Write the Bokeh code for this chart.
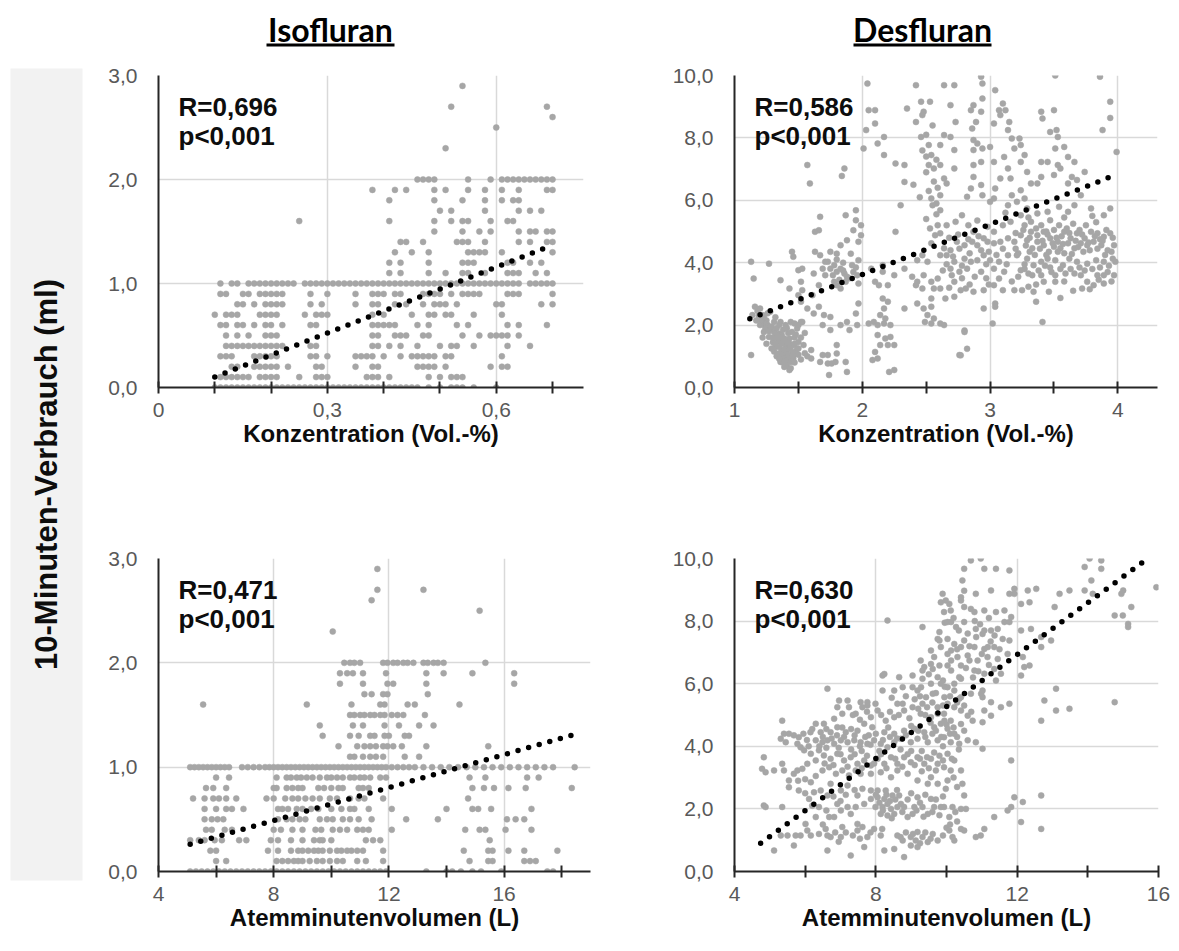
from bokeh.plotting import figure
from bokeh.layouts import row, column
from bokeh.models import Range1d, FixedTicker, Label, BoxAnnotation
from bokeh.embed import file_html
from bokeh.resources import INLINE

# ---------------------------------------------------------------------------
# Data
# ---------------------------------------------------------------------------

# Isofluran: consumption (ml / 10 min) versus concentration (Vol.-%)
# consumption is recorded in 0.1 ml steps, so points are stored per level
iso_conc_levels = [0.0, 0.1, 0.2, 0.3, 0.4, 0.5, 0.6, 0.7, 0.8, 0.9, 1.0,
                   1.1, 1.2, 1.3, 1.4, 1.5, 1.6, 1.7, 1.8, 1.9, 2.0,
                   2.3, 2.5, 2.6, 2.7, 2.9]
iso_conc_x = [
    [0.10, 0.11, 0.12, 0.13, 0.14, 0.15, 0.16, 0.17, 0.18, 0.19, 0.20, 0.21, 0.22,
     0.23, 0.24, 0.25, 0.26, 0.27, 0.28, 0.29, 0.30, 0.31, 0.32, 0.33, 0.34, 0.35,
     0.36, 0.37, 0.38, 0.39, 0.40, 0.41, 0.42, 0.43, 0.44, 0.45, 0.46, 0.48, 0.50,
     0.52, 0.53, 0.54, 0.56, 0.60],
    [0.11, 0.12, 0.13, 0.14, 0.15, 0.16, 0.18, 0.19, 0.20, 0.21, 0.25, 0.28, 0.29,
     0.30, 0.37, 0.38, 0.39, 0.41, 0.48, 0.50, 0.52, 0.53, 0.54],
    [0.13, 0.14, 0.17, 0.18, 0.19, 0.20, 0.21, 0.23, 0.28, 0.29, 0.35, 0.38, 0.39,
     0.46, 0.47, 0.48, 0.49, 0.51, 0.59, 0.61, 0.62],
    [0.11, 0.12, 0.13, 0.17, 0.18, 0.19, 0.20, 0.21, 0.27, 0.28, 0.30, 0.35, 0.36,
     0.37, 0.38, 0.40, 0.43, 0.45, 0.46, 0.47, 0.48, 0.49, 0.51, 0.52, 0.61],
    [0.12, 0.13, 0.14, 0.15, 0.16, 0.17, 0.18, 0.19, 0.20, 0.21, 0.22, 0.27, 0.28,
     0.38, 0.39, 0.41, 0.43, 0.46, 0.50, 0.52, 0.53, 0.56, 0.62, 0.66],
    [0.12, 0.14, 0.16, 0.19, 0.20, 0.21, 0.38, 0.39, 0.42, 0.43, 0.44, 0.47, 0.48,
     0.54, 0.57, 0.59, 0.60, 0.61, 0.62, 0.64],
    [0.11, 0.12, 0.14, 0.15, 0.17, 0.19, 0.20, 0.22, 0.27, 0.28, 0.38, 0.39, 0.40,
     0.41, 0.42, 0.46, 0.48, 0.53, 0.55, 0.62, 0.64, 0.69],
    [0.10, 0.12, 0.13, 0.14, 0.18, 0.19, 0.20, 0.21, 0.26, 0.28, 0.29, 0.30, 0.38,
     0.40, 0.45, 0.48, 0.49, 0.51, 0.52, 0.56, 0.61],
    [0.14, 0.15, 0.17, 0.19, 0.20, 0.21, 0.22, 0.27, 0.29, 0.35, 0.38, 0.39, 0.42,
     0.44, 0.47, 0.49, 0.50, 0.51, 0.53, 0.60, 0.61, 0.68, 0.70],
    [0.11, 0.12, 0.15, 0.16, 0.18, 0.19, 0.20, 0.21, 0.22, 0.27, 0.30, 0.35, 0.38,
     0.39, 0.40, 0.42, 0.43, 0.47, 0.48, 0.49, 0.50, 0.52, 0.54, 0.55, 0.56, 0.57,
     0.62, 0.63, 0.64, 0.70],
    [0.11, 0.13, 0.14, 0.16, 0.17, 0.18, 0.19, 0.20, 0.21, 0.22, 0.23, 0.24, 0.26,
     0.27, 0.28, 0.29, 0.30, 0.31, 0.32, 0.33, 0.34, 0.35, 0.36, 0.37, 0.38, 0.39,
     0.40, 0.41, 0.42, 0.43, 0.44, 0.45, 0.46, 0.47, 0.48, 0.49, 0.50, 0.51, 0.52,
     0.53, 0.54, 0.55, 0.56, 0.57, 0.58, 0.59, 0.60, 0.61, 0.62, 0.63, 0.64, 0.66,
     0.67, 0.68, 0.69, 0.70],
    [0.41, 0.43, 0.48, 0.51, 0.54, 0.55, 0.58, 0.62, 0.63, 0.64, 0.67, 0.69],
    [0.41, 0.43, 0.48, 0.54, 0.55, 0.56, 0.62, 0.63, 0.66, 0.68],
    [0.42, 0.45, 0.48, 0.55, 0.56, 0.57, 0.58, 0.61, 0.70],
    [0.43, 0.44, 0.47, 0.53, 0.54, 0.55, 0.58, 0.64, 0.66, 0.69, 0.70],
    [0.49, 0.54, 0.57, 0.59, 0.64, 0.66, 0.67, 0.69, 0.70],
    [0.25, 0.41, 0.49, 0.52, 0.54, 0.55, 0.59, 0.62, 0.63],
    [0.50, 0.52, 0.58, 0.64, 0.66, 0.68],
    [0.41, 0.49, 0.54, 0.58, 0.61, 0.63, 0.64],
    [0.38, 0.42, 0.44, 0.49, 0.51, 0.55, 0.58, 0.61, 0.64, 0.69, 0.70],
    [0.46, 0.47, 0.48, 0.49, 0.55, 0.59, 0.61, 0.62, 0.63, 0.64, 0.65, 0.66, 0.67,
     0.68, 0.69, 0.70],
    [0.51],
    [0.60],
    [0.70],
    [0.52, 0.69],
    [0.54],
]
iso_conc_trend_x = [0.10, 0.70]
iso_conc_trend_y = [0.10, 1.37]

# Isofluran: consumption versus minute volume (L)
iso_amv_levels = iso_conc_levels
iso_amv_x = [
    [5.1, 5.3, 5.5, 5.7, 5.9, 6.1, 6.3, 6.5, 6.7, 6.9, 7.1, 7.3, 7.5, 7.7, 7.9, 8.1,
     8.3, 8.5, 8.7, 8.9, 9.1, 9.3, 9.5, 9.7, 9.9, 10.1, 10.3, 10.5, 10.7, 10.9, 11.1,
     11.3, 11.5, 11.7, 11.9, 13.3, 14.0, 14.2, 14.5, 14.9, 15.2, 15.9, 17.5, 17.7],
    [6.0, 6.35, 8.1, 8.3, 8.5, 8.7, 8.85, 9.0, 9.25, 9.5, 9.7, 9.95, 10.2, 10.4,
     10.9, 11.2, 11.8, 14.8, 15.45, 15.6, 16.7, 16.9, 17.1],
    [5.8, 6.0, 7.8, 8.15, 8.6, 8.85, 9.0, 9.2, 9.4, 9.55, 9.7, 9.95, 10.2, 10.35,
     10.55, 10.7, 10.9, 11.1, 11.8, 14.6, 15.45, 15.6, 16.15, 16.7, 17.85],
    [5.1, 5.4, 5.6, 5.95, 6.2, 6.8, 7.05, 7.9, 8.15, 8.6, 9.0, 9.4, 9.6, 9.7, 10.0,
     11.2, 11.45, 11.7, 15.5],
    [5.65, 5.85, 6.3, 6.55, 8.0, 8.25, 8.65, 9.0, 9.45, 9.65, 10.05, 10.3, 10.55,
     10.9, 11.1, 11.3, 12.1, 14.65, 15.15, 15.35, 16.05, 16.95],
    [5.6, 5.85, 6.05, 6.25, 8.15, 8.45, 8.65, 8.9, 9.1, 9.6, 9.85, 10.05, 10.4,
     10.65, 10.95, 11.4, 12.6, 13.7, 16.1, 16.4, 16.7],
    [5.6, 6.0, 6.35, 6.55, 6.95, 8.15, 8.3, 8.5, 8.8, 9.0, 9.3, 9.55, 10.0, 10.35,
     10.65, 10.8, 11.3, 12.1, 14.0, 14.9, 15.1, 15.55, 16.95],
    [5.2, 5.6, 5.9, 6.1, 6.35, 6.7, 7.75, 8.0, 8.4, 8.65, 8.85, 9.1, 9.35, 9.6, 9.95,
     10.2, 10.65, 10.95, 11.15, 11.8, 14.75],
    [5.65, 5.9, 6.35, 8.0, 8.1, 8.45, 8.65, 8.85, 9.0, 9.55, 9.75, 10.0, 10.25, 10.4,
     10.95, 11.1, 11.3, 14.9, 15.3, 15.65, 16.15, 16.75, 18.35],
    [6.0, 6.45, 8.1, 8.45, 8.6, 8.8, 8.95, 9.15, 9.35, 9.6, 9.85, 10.0, 10.2, 10.4,
     10.65, 10.8, 11.0, 11.15, 11.35, 11.7, 11.9, 14.8, 15.35, 16.8, 17.2],
    [5.1, 5.25, 5.4, 5.55, 5.7, 5.85, 6.0, 6.15, 6.3, 6.45, 6.9, 7.1, 7.3, 7.5, 7.7,
     7.85, 8.0, 8.15, 8.3, 8.45, 8.6, 8.75, 8.9, 9.05, 9.2, 9.35, 9.5, 9.65, 9.8,
     9.95, 10.1, 10.25, 10.4, 10.55, 10.7, 10.85, 11.0, 11.15, 11.3, 11.45, 11.6,
     11.75, 11.9, 12.1, 12.3, 12.5, 12.7, 12.9, 13.2, 13.5, 13.8, 14.1, 14.4, 14.7,
     15.0, 15.3, 15.6, 15.9, 16.2, 16.5, 16.8, 17.1, 17.4, 17.7, 18.45],
    [10.65, 10.8, 11.1, 11.35, 11.55, 11.8, 12.55, 13.05],
    [10.25, 10.9, 11.15, 11.35, 11.55, 11.8, 11.95, 12.15, 12.45, 13.3, 15.45],
    [9.7, 10.65, 10.95, 11.35, 11.5, 11.85, 12.0, 12.55, 12.7],
    [9.6, 10.75, 11.1, 11.85, 12.35, 13.05, 13.55],
    [10.65, 10.8, 11.0, 11.15, 11.35, 11.5, 11.7, 11.85, 12.1, 12.3, 12.5, 13.25],
    [5.55, 9.15, 10.7, 11.7, 11.85, 12.65, 12.9, 14.45],
    [11.15, 11.4, 11.8, 11.95, 13.35],
    [10.3, 11.1, 11.95, 12.15, 13.3, 16.35],
    [10.3, 10.55, 10.75, 11.1, 11.9, 13.3, 13.9, 14.9, 16.35],
    [10.45, 10.65, 10.8, 11.0, 11.8, 11.95, 12.15, 12.3, 12.5, 12.65, 12.85, 13.2,
     13.35, 13.55, 13.7, 13.9, 15.35],
    [10.05],
    [15.15],
    [11.4],
    [11.6, 13.2],
    [11.6],
]
iso_amv_trend_x = [5.1, 18.4]
iso_amv_trend_y = [0.26, 1.31]

# Desfluran: consumption versus concentration, (Vol.-%, ml) pairs
des_conc_points = [
    (2.04, 9.74), (2.42, 9.69), (2.64, 9.69), (2.05, 8.89), (2.10, 8.89), (2.10, 8.46),
    (2.03, 8.25), (2.01, 7.66), (2.12, 7.82), (2.17, 8.03), (2.17, 7.45), (2.46, 9.16),
    (2.48, 8.84), (2.53, 9.16), (2.47, 8.73), (2.42, 8.51), (2.35, 8.94), (2.46, 8.03),
    (2.52, 7.77), (2.54, 7.45), (2.52, 7.13), (2.56, 7.02), (2.61, 7.13), (2.64, 6.70),
    (2.61, 7.77), (2.64, 8.09), (2.26, 7.18), (2.33, 7.13), (2.33, 6.59), (1.57, 7.13),
    (1.59, 6.54), (1.86, 7.02), (1.84, 6.78),
    (2.47, 7.60), (2.50, 7.40), (2.58, 7.30), (2.50, 6.90), (2.56, 6.60), (2.59, 6.40),
    (2.52, 6.30), (2.58, 5.90), (2.45, 6.10), (2.58, 5.55), (2.50, 5.40), (2.40, 6.50),
    (2.55, 8.40), (2.50, 8.10),
    (2.54, 6.06), (2.55, 5.84), (2.61, 6.16), (2.30, 5.84), (2.26, 4.99), (1.95, 5.68),
    (1.87, 5.52), (1.95, 5.36), (1.99, 5.20), (1.93, 5.04), (1.99, 4.88), (1.97, 4.67),
    (1.67, 5.47), (1.66, 5.04), (1.63, 4.99), (1.88, 4.72), (1.83, 4.56), (1.80, 4.29),
    (1.75, 4.35), (1.73, 4.03), (1.75, 3.81), (1.78, 3.92), (1.80, 3.71), (1.83, 3.81),
    (1.86, 3.65), (1.88, 3.55), (1.87, 3.39), (1.83, 3.17), (1.78, 3.39), (1.80, 3.28),
    (1.91, 4.29), (1.92, 3.92), (1.97, 4.08), (1.96, 3.60), (1.97, 3.33),
    (1.77, 3.60), (1.85, 3.75), (1.82, 3.45), (1.90, 3.50), (1.93, 3.70), (1.85, 4.00),
    (1.80, 4.10), (1.95, 3.85),
    (1.45, 4.35), (1.46, 4.19), (1.50, 3.76), (1.53, 3.81), (1.63, 4.35), (1.67, 4.24),
    (1.71, 4.03), (1.69, 3.81), (1.71, 3.60), (1.62, 3.65), (1.66, 3.28), (1.61, 2.96),
    (1.13, 4.03), (1.27, 3.97), (1.15, 3.49), (1.36, 3.44), (1.43, 3.17), (1.53, 3.12),
    (1.52, 3.39), (1.52, 2.75), (1.53, 2.10), (1.66, 2.59), (1.70, 2.32), (1.75, 2.26),
    (1.69, 2.00), (1.75, 1.84), (1.83, 2.00), (1.88, 2.10), (1.95, 2.37), (1.96, 2.00),
    (1.90, 1.84), (1.97, 2.69),
    (2.07, 3.81), (2.10, 3.39), (2.16, 3.71), (2.13, 3.28), (2.16, 2.85), (2.17, 2.53),
    (2.20, 2.75), (2.18, 2.21), (2.09, 2.10), (2.05, 2.05), (2.12, 2.00), (2.17, 2.05),
    (2.22, 2.00), (2.14, 2.32), (2.12, 1.68), (2.18, 1.57), (2.22, 1.62), (2.25, 1.36),
    (2.20, 1.36), (2.14, 1.36), (2.10, 1.14), (2.12, 0.93), (2.08, 0.88), (2.21, 0.50),
    (2.25, 0.56), (2.33, 2.53),
    (1.14, 2.32), (1.13, 1.04), (1.16, 2.59), (1.20, 2.53), (1.23, 2.26), (1.26, 2.00),
    (1.23, 1.78), (1.28, 1.89), (1.31, 1.78), (1.35, 1.73), (1.39, 1.57), (1.36, 1.46),
    (1.40, 1.36), (1.43, 1.41), (1.37, 1.20), (1.41, 1.09), (1.45, 1.14), (1.39, 0.98),
    (1.43, 0.93), (1.36, 0.82), (1.40, 0.77), (1.44, 0.82), (1.43, 0.56), (1.39, 0.66),
    (1.32, 1.30), (1.33, 1.68), (1.45, 1.78), (1.49, 1.89), (1.52, 2.10), (1.44, 2.10),
    (1.50, 1.46), (1.49, 1.25), (1.54, 1.36), (1.60, 1.20), (1.60, 0.93), (1.46, 0.93),
    (1.31, 2.10), (1.36, 2.10), (1.40, 2.00), (1.28, 2.43), (1.22, 2.32), (1.46, 1.36),
    (1.37, 1.68), (1.43, 1.57), (1.25, 2.15), (1.29, 1.95), (1.33, 1.90), (1.38, 1.85),
    (1.42, 1.75), (1.34, 1.55), (1.38, 1.40), (1.42, 1.25), (1.35, 1.10), (1.38, 1.05),
    (1.42, 1.00), (1.46, 1.05), (1.48, 1.15), (1.40, 0.88), (1.37, 0.95), (1.33, 1.00),
    (1.30, 1.45), (1.47, 1.60), (1.27, 1.62), (1.24, 2.05), (1.19, 2.30), (1.26, 2.38),
    (1.47, 2.05), (1.50, 2.00),
    (1.21, 2.15), (1.24, 1.92), (1.27, 1.80), (1.30, 1.60), (1.32, 1.40), (1.35, 1.30),
    (1.36, 1.60), (1.39, 1.20), (1.41, 1.45), (1.44, 1.30), (1.47, 1.40), (1.50, 1.25),
    (1.45, 1.00), (1.41, 0.70), (1.38, 0.80), (1.35, 0.92), (1.31, 1.15), (1.29, 1.25),
    (1.44, 0.62), (1.47, 0.80), (1.50, 1.05), (1.52, 0.90), (1.55, 1.10), (1.57, 1.00),
    (1.20, 2.00), (1.17, 2.15), (1.22, 1.60), (1.25, 1.40), (1.48, 1.70), (1.52, 1.60),
    (1.55, 1.75), (1.41, 1.90), (1.35, 2.00), (1.32, 2.25), (1.18, 2.45),
    (1.69, 1.04), (1.73, 1.04), (1.80, 1.09), (1.73, 0.77), (1.76, 0.77), (1.79, 0.82),
    (1.67, 0.82), (1.87, 0.82), (1.74, 0.40), (1.88, 0.50), (1.80, 1.36), (1.57, 2.53),
    (1.62, 2.37), (1.50, 2.96),
    (2.53, 5.10), (2.59, 5.20), (2.57, 4.88), (2.61, 4.94), (2.54, 4.62), (2.61, 4.24),
    (2.43, 4.08), (2.47, 4.24), (2.51, 4.03), (2.48, 3.60), (2.54, 3.39), (2.59, 3.49),
    (2.43, 3.39), (2.47, 3.17), (2.56, 3.17), (2.61, 3.17), (2.54, 2.85), (2.48, 2.53),
    (2.51, 2.32), (2.56, 2.21), (2.61, 2.05), (2.49, 2.10), (2.54, 2.05), (2.43, 2.69),
    (2.54, 2.59), (2.16, 3.92), (2.33, 3.81), (2.39, 3.55), (2.42, 3.28), (2.25, 3.60),
    (2.20, 3.28), (2.77, 1.03), (2.82, 1.24), (2.80, 1.83),
    (2.72, 9.69), (2.93, 9.96), (2.94, 9.74), (3.04, 9.53), (3.51, 10.0), (3.86, 9.96),
    (2.94, 9.26), (2.87, 9.05), (2.69, 9.05), (2.85, 8.89), (2.93, 8.84), (2.73, 8.51),
    (2.86, 8.30), (2.89, 8.51), (3.03, 8.46), (3.10, 9.10), (3.07, 8.89), (3.12, 8.89),
    (3.15, 8.51), (3.14, 8.25), (3.08, 8.73), (3.40, 8.84), (3.41, 8.62), (3.50, 8.89),
    (3.47, 8.19), (3.52, 8.25), (3.53, 8.03), (3.94, 9.16), (3.94, 8.64), (3.88, 8.25),
    (3.99, 7.55),
    (2.69, 8.03), (2.87, 7.93), (2.90, 7.82), (2.87, 7.61), (2.94, 7.66), (2.72, 7.61),
    (3.00, 7.71), (3.17, 7.98), (3.23, 7.98), (3.24, 7.77), (3.19, 7.66), (3.27, 7.45),
    (3.03, 7.23), (3.11, 7.39), (3.14, 7.02), (3.24, 7.23), (3.08, 6.70), (3.16, 6.70),
    (3.29, 6.91), (3.40, 7.23), (3.45, 7.23), (3.53, 7.13), (3.58, 7.71), (3.61, 7.39),
    (3.51, 7.66), (3.55, 7.02), (3.66, 7.23), (3.74, 6.91), (3.64, 6.75), (3.61, 6.54),
    (3.68, 6.65), (3.40, 6.75), (3.50, 6.81), (3.27, 6.06), (3.32, 6.54), (3.37, 6.54),
    (2.87, 7.13), (2.93, 7.23), (2.87, 6.75), (2.72, 7.02), (2.66, 6.54), (2.93, 6.49),
    (2.85, 6.38), (3.04, 6.38), (3.24, 6.32), (3.17, 6.16), (3.03, 6.06), (2.94, 6.16),
    (2.82, 6.11),
    (3.00, 5.95), (3.14, 5.84), (3.21, 5.95), (3.29, 5.74), (3.37, 5.58), (3.45, 5.63),
    (3.54, 5.79), (3.61, 5.63), (3.66, 5.84), (3.71, 6.16), (3.79, 5.74), (3.89, 5.52),
    (3.94, 5.74), (3.24, 5.52), (3.16, 5.31), (3.10, 5.20), (3.03, 4.99), (2.95, 4.78),
    (2.87, 4.99), (2.78, 5.52), (2.73, 5.31), (2.66, 5.20), (2.61, 5.68), (3.27, 5.20),
    (3.32, 5.31), (3.40, 5.20), (3.47, 5.36), (3.54, 5.20), (3.32, 4.99), (3.37, 4.88),
    (3.42, 4.99), (3.47, 4.78), (3.53, 4.67), (3.58, 4.99), (3.63, 4.78), (3.68, 4.94),
    (3.74, 4.78), (3.79, 4.99), (3.84, 4.94), (3.89, 4.83), (3.94, 4.94), (3.87, 4.56),
    (3.92, 4.40), (3.97, 4.56), (3.81, 4.67), (3.76, 4.56), (3.71, 4.62), (3.66, 4.46),
    (3.61, 4.62), (3.55, 4.46), (3.50, 4.51), (3.42, 4.56), (3.37, 4.67), (3.33, 4.46),
    (3.29, 4.72), (3.24, 4.88), (3.19, 4.67), (3.14, 4.78), (3.08, 4.67), (3.03, 4.62),
    (2.98, 4.67), (2.90, 4.56), (2.86, 4.67), (2.80, 4.56), (2.74, 4.67), (2.69, 4.40),
    (2.64, 4.46),
    (3.45, 4.90), (3.50, 5.05), (3.56, 4.85), (3.60, 5.10), (3.65, 5.25), (3.70, 5.05),
    (3.75, 5.20), (3.83, 5.30), (3.86, 4.75), (3.73, 4.35), (3.58, 4.30), (3.46, 4.35),
    (3.35, 4.25), (3.63, 3.80), (3.70, 3.85), (3.80, 3.80), (3.93, 3.90), (3.47, 3.85),
    (3.38, 3.75), (3.27, 3.95), (2.97, 3.95), (2.78, 3.90), (3.20, 4.45), (3.10, 4.45),
    (2.99, 4.35), (2.68, 4.80), (2.75, 4.90), (2.83, 4.75), (2.91, 4.85), (2.70, 3.60),
    (2.78, 3.50), (2.88, 3.55), (2.97, 3.50), (2.66, 3.95),
    (3.20, 4.95), (3.26, 5.05), (3.31, 4.80), (3.36, 5.10), (3.41, 4.70), (3.44, 5.00),
    (3.52, 4.80), (3.57, 4.60), (3.62, 4.95), (3.67, 4.70), (3.72, 4.90), (3.77, 4.65),
    (3.82, 4.85), (3.88, 4.70), (3.91, 5.05), (3.96, 4.80), (3.22, 4.30), (3.28, 4.55),
    (3.31, 4.35), (3.39, 4.45), (3.44, 4.25), (3.49, 4.62), (3.53, 4.35), (3.64, 4.28),
    (3.69, 4.50), (3.78, 4.40), (3.84, 4.45), (3.90, 4.25), (3.95, 4.35), (3.27, 3.80),
    (3.33, 3.60), (3.43, 3.90), (3.48, 3.70), (3.55, 3.80), (3.66, 3.65), (3.74, 3.75),
    (3.86, 3.85), (3.92, 3.70), (3.97, 3.60), (3.13, 3.95), (3.05, 4.25), (2.93, 4.40),
    (2.84, 4.30), (2.76, 4.45), (2.71, 4.20), (2.63, 3.75), (2.68, 3.20), (2.84, 3.30),
    (2.99, 3.30), (3.17, 3.40), (3.22, 3.55), (3.36, 3.30), (3.58, 3.40), (3.65, 3.10),
    (3.78, 3.15), (3.85, 3.45), (3.95, 3.40), (3.12, 5.60), (3.30, 5.45), (3.58, 5.45),
    (3.80, 5.50), (2.83, 5.20), (2.90, 5.35), (2.98, 5.15),
    (2.66, 4.24), (2.72, 4.03), (2.80, 4.13), (2.85, 4.03), (2.90, 4.08), (2.95, 4.24),
    (3.00, 4.08), (3.07, 4.03), (3.14, 4.24), (3.21, 4.24), (3.29, 4.13), (3.34, 3.92),
    (3.40, 4.03), (3.45, 4.13), (3.51, 4.08), (3.57, 3.92), (3.62, 4.13), (3.68, 4.03),
    (3.76, 3.97), (3.83, 4.08), (3.89, 4.03), (3.96, 4.13), (3.98, 4.03), (2.69, 3.81),
    (2.76, 3.71), (2.82, 3.81), (2.93, 3.71), (3.03, 3.81), (3.07, 3.49), (3.11, 3.71),
    (3.24, 3.76), (3.30, 3.65), (3.40, 3.60), (3.51, 3.60), (3.59, 3.65), (3.71, 3.60),
    (3.76, 3.39), (3.84, 3.60), (3.89, 3.60), (2.72, 3.39), (2.81, 3.17), (2.87, 3.07),
    (2.95, 3.12), (3.03, 3.28), (3.10, 3.12), (3.19, 3.12), (3.25, 3.12), (3.30, 3.23),
    (3.34, 3.07), (3.42, 3.39), (3.46, 3.07), (3.51, 3.39), (3.72, 3.17), (3.81, 3.28),
    (3.89, 3.33), (2.65, 2.85), (2.72, 2.91), (2.77, 3.12), (2.95, 2.53), (3.04, 2.69),
    (3.04, 2.59), (3.36, 2.75), (3.55, 2.87), (3.02, 2.05), (3.41, 2.10), (2.64, 2.00),
    (2.80, 1.78), (2.76, 1.04),
]
des_conc_trend_x = [1.12, 3.93]
des_conc_trend_y = [2.20, 6.73]

# Desfluran: consumption versus minute volume, (L, ml) pairs
des_amv_points = [
    (4.83, 3.65), (4.78, 3.28), (4.88, 3.17), (5.35, 4.82), (5.31, 4.24), (5.35, 3.44),
    (5.12, 3.23), (5.40, 3.23), (4.83, 2.11), (4.88, 2.06), (5.35, 2.06), (5.12, 0.67),
    (5.68, 0.83), (5.31, 1.15), (5.50, 1.15), (5.73, 1.15), (5.87, 1.15),
    (5.40, 4.40), (5.54, 4.40), (5.68, 4.35), (5.82, 4.29), (5.45, 4.13), (5.78, 4.08),
    (5.87, 3.97),
    (5.54, 2.91), (5.68, 3.12), (5.78, 3.23), (5.92, 3.28), (6.06, 3.44), (5.54, 2.69),
    (5.82, 2.59), (6.16, 2.85), (6.25, 2.53), (6.11, 2.32), (6.39, 2.06), (6.30, 1.74),
    (6.01, 1.52), (6.06, 1.31), (6.16, 1.15), (6.39, 1.20), (6.63, 1.15), (6.58, 1.36),
    (6.72, 1.10), (6.63, 0.67), (7.01, 1.10), (7.29, 0.51), (7.05, 1.42), (6.91, 2.16),
    (7.01, 1.95), (6.82, 1.74), (6.68, 1.74), (7.20, 2.06), (7.29, 1.84), (7.43, 2.06),
    (7.48, 1.52), (7.48, 1.31), (7.62, 1.42), (7.76, 1.10), (7.95, 1.36), (8.14, 1.15),
    (8.18, 1.36), (7.67, 0.78), (8.24, 0.67), (8.52, 0.72), (8.80, 0.46), (8.61, 1.15),
    (8.76, 0.99), (8.99, 1.10), (9.13, 0.99), (9.18, 1.26), (9.32, 1.10), (9.47, 0.94),
    (9.61, 1.20), (9.75, 0.99), (8.99, 0.83), (9.18, 0.78),
    (7.86, 2.32), (8.05, 2.37), (8.24, 2.32), (8.33, 2.16), (8.43, 2.00), (8.61, 2.06),
    (8.19, 2.06), (7.99, 2.06), (8.14, 1.84), (8.33, 1.79), (8.52, 1.84), (8.71, 2.16),
    (8.80, 2.06), (9.09, 2.06), (9.32, 2.06), (9.56, 2.32), (9.65, 2.06), (9.84, 2.06),
    (9.18, 2.37), (9.04, 1.84), (9.47, 1.84), (8.90, 1.74), (8.66, 2.43), (8.47, 2.43),
    (8.28, 2.59), (8.05, 2.59), (7.86, 2.59), (7.62, 2.64), (7.48, 2.43), (7.67, 2.16),
    (8.10, 2.20), (8.30, 2.45), (8.40, 2.25), (8.55, 2.30), (8.20, 1.95), (8.45, 1.70),
    (8.00, 2.45),
    (6.30, 4.72), (6.44, 4.45), (6.30, 4.19), (6.49, 4.13), (6.63, 4.19), (6.82, 4.08),
    (7.01, 4.19), (7.20, 4.13), (7.39, 4.19), (7.57, 4.13), (7.76, 4.08), (7.95, 4.19),
    (8.14, 4.08), (8.33, 3.97), (8.52, 4.13), (8.71, 4.24), (8.99, 4.13), (9.18, 4.24),
    (9.47, 4.13), (9.75, 4.19), (6.72, 4.45), (6.91, 4.61), (7.15, 4.45), (7.48, 4.50),
    (7.67, 4.72), (7.90, 4.61), (8.24, 4.45), (8.52, 4.40), (8.80, 4.50), (9.09, 4.56),
    (9.37, 4.45), (9.65, 4.61), (9.84, 4.72), (6.53, 4.72), (6.82, 4.88), (7.05, 5.04),
    (7.24, 5.25), (7.43, 5.04), (7.62, 5.25), (7.86, 4.93), (8.05, 5.14), (8.28, 4.82),
    (8.52, 4.93), (8.80, 5.14), (9.04, 5.25), (9.27, 5.04), (9.56, 4.93), (9.75, 5.04),
    (9.94, 4.82), (6.96, 5.46), (7.20, 5.46), (7.76, 5.30), (7.99, 5.36), (8.61, 5.36),
    (8.76, 5.36), (6.63, 5.84), (8.19, 5.78), (8.52, 5.78), (8.19, 6.26), (8.66, 6.21),
    (9.04, 6.26), (9.32, 6.16), (9.56, 6.00), (9.75, 6.21), (9.42, 5.57), (9.32, 5.36),
    (9.18, 5.78), (8.33, 8.02), (9.32, 7.81), (9.84, 8.60), (9.89, 8.87), (9.56, 6.63),
    (9.27, 6.74), (9.37, 6.53),
    (5.97, 3.87), (6.16, 3.76), (6.39, 3.87), (6.53, 3.71), (6.72, 3.60), (6.91, 3.76),
    (7.10, 3.55), (7.29, 3.65), (7.48, 3.44), (7.67, 3.55), (7.86, 3.39), (8.05, 3.60),
    (8.24, 3.44), (8.43, 3.65), (8.61, 3.44), (8.80, 3.65), (8.99, 3.49), (9.18, 3.65),
    (9.37, 3.44), (9.56, 3.60), (9.75, 3.44), (9.70, 3.23), (9.56, 3.01), (9.47, 2.80),
    (9.75, 2.80), (6.49, 3.23), (6.68, 3.33), (6.87, 3.12), (7.05, 3.23), (7.24, 3.07),
    (7.43, 3.23), (7.57, 3.12), (7.86, 3.12), (8.14, 3.17), (8.43, 3.01), (8.61, 3.23),
    (8.90, 3.12), (9.18, 2.91), (6.72, 2.80), (7.01, 2.59), (7.20, 2.75), (6.63, 2.43),
    (6.44, 2.59),
    (7.76, 5.41), (6.91, 5.25), (7.57, 5.41), (8.24, 6.31), (9.04, 5.89), (9.56, 7.06),
    (9.65, 6.85), (9.80, 7.38), (9.80, 7.65),
    (6.10, 4.00), (6.60, 3.95), (6.95, 3.95), (7.30, 3.90), (7.60, 3.85), (7.10, 4.30),
    (6.50, 4.30), (7.80, 4.35), (8.10, 3.85), (8.40, 4.30), (8.70, 3.90), (9.00, 3.85),
    (9.30, 3.85), (9.60, 4.40), (9.90, 4.00), (9.80, 3.70), (9.50, 3.30), (9.30, 3.20),
    (9.10, 5.50), (9.40, 5.00), (9.60, 5.40), (9.70, 5.70), (9.90, 5.30), (9.50, 6.30),
    (9.90, 6.10),
    (6.20, 4.55), (6.40, 4.00), (6.60, 4.55), (6.75, 4.25), (6.90, 4.35), (7.05, 4.60),
    (7.30, 4.55), (7.40, 4.35), (7.55, 4.00), (7.70, 4.30), (7.85, 4.05), (8.00, 4.40),
    (8.20, 4.20), (8.35, 4.60), (8.60, 4.25), (8.85, 4.35), (9.00, 4.65), (9.20, 4.50),
    (9.40, 4.30), (9.55, 4.75), (9.70, 4.50), (9.85, 4.30), (6.30, 3.55), (6.55, 3.45),
    (6.80, 3.40), (7.00, 3.75), (7.20, 3.35), (7.40, 3.75), (7.60, 3.30), (7.75, 3.70),
    (7.95, 3.45), (8.15, 3.75), (8.30, 3.30), (8.55, 3.60), (8.75, 3.35), (8.90, 3.75),
    (9.10, 3.40), (9.25, 3.60), (9.45, 3.65), (9.65, 3.80), (9.90, 3.55), (7.35, 5.00),
    (7.55, 4.85), (7.75, 5.10), (8.15, 5.00), (8.40, 5.10), (8.65, 5.00), (8.95, 4.90),
    (9.20, 5.20), (9.45, 5.25), (9.75, 5.25), (8.45, 5.55), (8.85, 5.60), (9.25, 5.60),
    (8.90, 2.30), (9.00, 2.50), (9.25, 2.20), (9.40, 2.45), (9.70, 2.30), (9.90, 2.40),
    (8.60, 2.60), (8.75, 1.90), (9.15, 1.95), (9.35, 1.75), (9.60, 1.90), (9.80, 1.80),
    (8.70, 1.10), (8.85, 1.25), (9.05, 1.20), (9.25, 0.90), (9.40, 1.25), (9.55, 1.05),
    (9.90, 1.15), (10.00, 1.40), (6.85, 1.25), (6.95, 0.95), (7.15, 1.25), (7.35, 1.15),
    (7.55, 1.05), (7.85, 1.25), (6.50, 1.50), (6.60, 1.95), (6.80, 2.40), (7.00, 2.25),
    (7.15, 2.45), (7.40, 2.60), (6.20, 2.10), (6.00, 2.50), (5.80, 2.90), (6.00, 2.95),
    (6.30, 3.05), (5.95, 4.40), (6.05, 4.20), (6.15, 4.45),
    (9.95, 5.90), (10.10, 5.60), (10.30, 5.40), (10.50, 5.30), (10.70, 5.10),
    (10.00, 4.70), (10.20, 4.60), (10.30, 4.30), (10.10, 4.40), (10.35, 3.90),
    (10.15, 3.60), (10.20, 3.00), (10.30, 2.70), (10.45, 2.80), (10.55, 2.00),
    (10.25, 1.90), (10.30, 1.60), (10.10, 1.50), (9.95, 7.95), (10.20, 8.10),
    (10.35, 7.70), (10.60, 7.60), (10.80, 8.00), (10.95, 7.90), (11.20, 8.10),
    (10.55, 6.50), (10.75, 6.20), (10.90, 6.40), (11.20, 6.60), (11.40, 6.10),
    (10.30, 7.10), (10.65, 7.20), (11.00, 6.95), (11.25, 7.35), (11.50, 7.10),
    (10.97, 10.0), (10.69, 9.94), (10.50, 9.67), (11.07, 9.67), (11.40, 9.67),
    (11.78, 9.62), (10.45, 9.30), (10.50, 8.97), (10.83, 8.87), (11.26, 8.98),
    (11.78, 8.87), (11.92, 9.03), (11.92, 8.87), (9.98, 8.66), (10.41, 8.66),
    (10.50, 8.45), (10.69, 8.39), (11.07, 8.34), (11.40, 8.29), (11.64, 8.34),
    (9.93, 8.29), (10.12, 8.34), (12.11, 8.55), (12.30, 8.98), (12.54, 9.03),
    (12.35, 8.60), (14.05, 10.0), (14.38, 9.94), (14.38, 9.67), (13.91, 9.73),
    (14.10, 9.30), (13.91, 8.98), (14.14, 8.87), (13.48, 8.98), (13.20, 8.87),
    (13.06, 8.45), (15.00, 8.98), (14.95, 8.87), (15.23, 8.45), (14.76, 8.18),
    (14.99, 8.18), (15.14, 7.91), (15.14, 7.81), (15.94, 9.08),
    (10.03, 7.97), (10.27, 7.81), (10.50, 7.97), (10.83, 7.75), (11.02, 7.59),
    (11.26, 7.70), (11.45, 7.75), (11.64, 7.97), (11.78, 7.97), (10.03, 7.43),
    (10.22, 7.27), (10.50, 7.38), (10.79, 7.17), (11.07, 7.11), (11.35, 7.17),
    (11.59, 7.43), (11.78, 7.38), (10.03, 6.95), (10.31, 6.85), (10.60, 6.90),
    (10.88, 6.74), (11.16, 6.85), (11.45, 6.79), (11.73, 6.95), (12.11, 7.70),
    (12.39, 7.75), (12.68, 7.49), (12.68, 7.17), (12.96, 7.38), (12.16, 6.85),
    (12.35, 6.58), (12.20, 6.53), (12.11, 6.26), (10.03, 6.58), (10.41, 6.58),
    (10.79, 6.42), (11.07, 6.32), (11.35, 6.47), (11.54, 6.32), (10.36, 6.21),
    (9.84, 6.00), (10.03, 5.89), (10.22, 5.78), (10.41, 5.57), (10.69, 5.68),
    (11.02, 5.78), (11.02, 5.57), (11.26, 5.41), (11.54, 5.25), (11.78, 5.36),
    (11.07, 5.14), (11.26, 4.98), (11.02, 4.77), (10.74, 4.82), (10.60, 4.98),
    (10.41, 5.14), (10.22, 5.25), (10.03, 5.36), (9.93, 5.04), (10.12, 4.82),
    (10.41, 4.71), (10.50, 4.50), (10.03, 4.56), (10.22, 4.40), (9.93, 4.29),
    (10.12, 4.13), (10.36, 4.08), (10.60, 4.19), (10.83, 4.13), (11.02, 3.92),
    (13.10, 5.84), (12.77, 5.46), (13.10, 5.14), (13.48, 5.20), (12.68, 4.82),
    (14.76, 5.41),
    (10.03, 3.76), (10.22, 3.55), (9.93, 3.33), (10.12, 3.23), (10.41, 3.23),
    (10.03, 2.91), (9.98, 2.64), (11.83, 3.55), (10.50, 2.43), (9.93, 2.06),
    (10.17, 2.06), (10.41, 2.00), (10.08, 1.74), (10.08, 1.31), (10.17, 1.10),
    (10.22, 0.99), (10.41, 1.36), (10.50, 1.31), (10.83, 1.10), (10.97, 1.15),
    (11.07, 1.36), (11.35, 1.74), (11.73, 1.95), (11.83, 2.06), (11.92, 2.37),
    (12.16, 2.22), (12.11, 1.58), (12.68, 2.43), (12.68, 1.36),
    (10.08, 8.55), (10.41, 8.76), (10.13, 7.97), (9.75, 7.43), (9.84, 7.17),
    (10.13, 7.06), (10.41, 7.17), (10.65, 6.74), (10.13, 6.74), (9.80, 6.58),
    (10.13, 6.42), (10.41, 6.16), (9.32, 6.42), (9.61, 6.47), (8.76, 5.89),
    (9.28, 5.89), (9.61, 5.68), (9.94, 5.57), (10.36, 5.52), (10.98, 5.68),
    (10.22, 6.00), (10.84, 7.49), (11.07, 7.70), (11.36, 7.54), (11.17, 7.17),
    (10.79, 8.29), (11.83, 8.13),
]
des_amv_trend_x = [4.74, 15.70]
des_amv_trend_y = [0.90, 10.0]

# Axis ticks and labels
iso_conc_xticks = [0.0, 0.1, 0.2, 0.3, 0.4, 0.5, 0.6, 0.7]
iso_conc_xlabels = ["0", "", "", "0,3", "", "", "0,6", ""]
iso_conc_xgrid = [0.3, 0.6]
des_conc_xticks = [1.0, 1.5, 2.0, 2.5, 3.0, 3.5, 4.0]
des_conc_xlabels = ["1", "", "2", "", "3", "", "4"]
des_conc_xgrid = [2.0, 3.0, 4.0]
amv_xticks = [4, 6, 8, 10, 12, 14, 16, 18]
amv_xlabels = ["4", "", "8", "", "12", "", "16", ""]
amv_xgrid = [8, 12, 16]
iso_yticks = [0, 1, 2, 3]
iso_ylabels = ["0,0", "1,0", "2,0", "3,0"]
des_yticks = [0, 2, 4, 6, 8, 10]
des_ylabels = ["0,0", "2,0", "4,0", "6,0", "8,0", "10,0"]

stats_iso_conc = ("R=0,696", "p<0,001")
stats_des_conc = ("R=0,586", "p<0,001")
stats_iso_amv = ("R=0,471", "p<0,001")
stats_des_amv = ("R=0,630", "p<0,001")

# ---------------------------------------------------------------------------
# Styling
# ---------------------------------------------------------------------------
POINT = "#a6a6a6"
GRID = "#d9d9d9"
AXIS = "#262626"
TICK_TEXT = "#595959"
TEXT = "#0d0d0d"
FONT = "Liberation Sans"
TITLE_FONT = "Lato"


def flatten(levels, rows):
    xs, ys = [], []
    for level, row_x in zip(levels, rows):
        xs.extend(row_x)
        ys.extend([level] * len(row_x))
    return xs, ys


def panel(width, height, borders, x_range, y_range, xticks, xlabels, xgrid,
          yticks, ylabels, x_title, xs, ys, trend_x, trend_y, stats):
    left, right, top, bottom = borders
    p = figure(width=width, height=height,
               x_range=Range1d(*x_range), y_range=Range1d(*y_range),
               output_backend="svg", toolbar_location=None,
               min_border_left=left, min_border_right=right,
               min_border_top=top, min_border_bottom=bottom)
    p.outline_line_color = None
    p.background_fill_color = "white"
    p.border_fill_color = "white"

    # x axis: ticks crossing the axis line, labels only on major steps
    xa = p.xaxis[0]
    xa.ticker = FixedTicker(ticks=xticks)
    xa.major_label_overrides = dict(zip(xticks, xlabels))
    xa.axis_line_color = AXIS
    xa.axis_line_width = 2
    xa.major_tick_line_color = AXIS
    xa.major_tick_line_width = 2
    xa.major_tick_in = 6
    xa.major_tick_out = 6
    xa.minor_tick_line_color = None
    xa.major_label_text_font = FONT
    xa.major_label_text_font_size = "21px"
    xa.major_label_text_color = TICK_TEXT
    xa.major_label_standoff = 9
    xa.axis_label = x_title
    xa.axis_label_text_font = FONT
    xa.axis_label_text_font_size = "24px"
    xa.axis_label_text_font_style = "bold"
    xa.axis_label_text_color = TEXT
    xa.axis_label_standoff = 0

    ya = p.yaxis[0]
    ya.ticker = FixedTicker(ticks=yticks)
    ya.major_label_overrides = dict(zip(yticks, ylabels))
    ya.axis_line_color = AXIS
    ya.axis_line_width = 2
    ya.major_tick_line_color = None
    ya.minor_tick_line_color = None
    ya.major_tick_in = 0
    ya.major_tick_out = 0
    ya.major_label_text_font = FONT
    ya.major_label_text_font_size = "21px"
    ya.major_label_text_color = TICK_TEXT
    ya.major_label_standoff = 21

    p.xgrid.ticker = FixedTicker(ticks=xgrid)
    p.ygrid.ticker = FixedTicker(ticks=[t for t in yticks if t > 0])
    p.grid.grid_line_color = GRID
    p.grid.grid_line_width = 1.5

    p.scatter(xs, ys, size=6, fill_color=POINT, line_color=POINT, line_width=0.5)
    p.line(trend_x, trend_y, line_color="black", line_width=5.5,
           line_dash="0 11", line_cap="round")

    frame_h = height - top - bottom
    for i, txt in enumerate(stats):
        p.add_layout(Label(x=20, y=frame_h - 31 - 29 * i, x_units="screen", y_units="screen",
                           text=txt, text_font=FONT, text_font_size="26px",
                           text_font_style="bold", text_color=TEXT,
                           text_baseline="alphabetic", text_align="left"))
    return p


# ---------------------------------------------------------------------------
# Panels
# ---------------------------------------------------------------------------
ic_x, ic_y = flatten(iso_conc_levels, iso_conc_x)
ia_x, ia_y = flatten(iso_amv_levels, iso_amv_x)
dc_x = [pt[0] for pt in des_conc_points]
dc_y = [pt[1] for pt in des_conc_points]
da_x = [pt[0] for pt in des_amv_points]
da_y = [pt[1] for pt in des_amv_points]

p1 = panel(547, 450, (62, 60, 25, 113), (0, 0.755), (0, 3),
           iso_conc_xticks, iso_conc_xlabels, iso_conc_xgrid, iso_yticks, iso_ylabels,
           "Konzentration (Vol.-%)", ic_x, ic_y, iso_conc_trend_x, iso_conc_trend_y,
           stats_iso_conc)
p2 = panel(536, 450, (91, 22, 25, 113), (1, 4.31), (0, 10),
           des_conc_xticks, des_conc_xlabels, des_conc_xgrid, des_yticks, des_ylabels,
           "Konzentration (Vol.-%)", dc_x, dc_y, des_conc_trend_x, des_conc_trend_y,
           stats_des_conc)
p3 = panel(547, 451, (62, 53, 58, 80), (4, 19), (0, 3),
           amv_xticks, amv_xlabels, amv_xgrid, iso_yticks, iso_ylabels,
           "Atemminutenvolumen (L)", ia_x, ia_y, iso_amv_trend_x, iso_amv_trend_y,
           stats_iso_amv)
p4 = panel(536, 451, (91, 21, 58, 80), (4, 16), (0, 10),
           amv_xticks[:-1], amv_xlabels[:-1], amv_xgrid, des_yticks, des_ylabels,
           "Atemminutenvolumen (L)", da_x, da_y, des_amv_trend_x, des_amv_trend_y,
           stats_des_amv)

# ---------------------------------------------------------------------------
# Column headings (underlined) and shared y-axis caption
# ---------------------------------------------------------------------------
HEAD_W, HEAD_H = 1083, 50
head = figure(width=HEAD_W, height=HEAD_H, x_range=Range1d(0, HEAD_W), y_range=Range1d(0, HEAD_H),
              output_backend="svg", toolbar_location=None,
              x_axis_location=None, y_axis_location=None, min_border=0)
head.outline_line_color = None
head.grid.visible = False
for name, cx, half_w in (("Isofluran", 234, 64), ("Desfluran", 826, 69)):
    head.add_layout(Label(x=cx, y=21, text=name, text_font=TITLE_FONT, text_font_size="32px",
                          text_font_style="bold", text_color="black",
                          text_align="center", text_baseline="alphabetic"))
    head.add_layout(BoxAnnotation(left=cx - half_w, right=cx + half_w, bottom=4, top=7,
                                  fill_color="black", fill_alpha=1, line_color=None))

side = figure(width=96, height=951, x_range=Range1d(0, 1), y_range=Range1d(0, 1),
              output_backend="svg", toolbar_location=None,
              x_axis_location=None, y_axis_location=None,
              min_border_left=10, min_border_right=14, min_border_top=68, min_border_bottom=71)
side.outline_line_color = None
side.grid.visible = False
side.background_fill_color = "#f2f2f2"
side.border_fill_color = "white"
side.add_layout(Label(x=0.5, y=0.5, text="10-Minuten-Verbrauch (ml)", angle=90, angle_units="deg",
                      text_font=FONT, text_font_size="31px", text_font_style="bold",
                      text_color=TEXT, text_align="center", text_baseline="middle"))

layout = row(side, column(head, row(p1, p2), row(p3, p4)))

open("out.html", "w").write(file_html(layout, INLINE))
